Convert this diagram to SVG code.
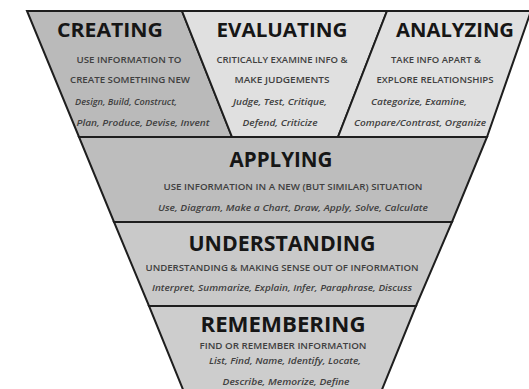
<svg xmlns="http://www.w3.org/2000/svg" width="529" height="389" viewBox="0 0 529 389">
<style>
  .bg { fill: #ffffff; }
  .shape { stroke: #1e1e1e; stroke-width: 2; stroke-linejoin: miter; }
  .h { font-family: "Open Sans", "Noto Sans", sans-serif; font-weight: bold; fill: #161616; text-anchor: middle; }
  .s { font-family: "Open Sans", "Noto Sans", sans-serif; font-size: 8.5px; font-weight: 600; fill: #404040; text-anchor: middle; }
  .i { font-family: "Open Sans", "Noto Sans", sans-serif; font-size: 8.5px; font-style: italic; font-weight: 600; fill: #404040; text-anchor: middle; }
</style>
<rect class="bg" x="0" y="0" width="529" height="389"/>

<g id="creating">
  <polygon class="shape" fill="#bababa" points="27,11 182,11 232,137 79,137"/>
  <text class="h" x="110" y="37" font-size="20" textLength="106" lengthAdjust="spacingAndGlyphs">CREATING</text>
  <text class="s" x="129" y="63" textLength="105" lengthAdjust="spacingAndGlyphs">USE INFORMATION TO</text>
  <text class="s" x="130" y="83" textLength="120" lengthAdjust="spacingAndGlyphs">CREATE SOMETHING NEW</text>
  <text class="i" x="126" y="105" textLength="102" lengthAdjust="spacingAndGlyphs">Design, Build, Construct,</text>
  <text class="i" x="143" y="126" textLength="133" lengthAdjust="spacingAndGlyphs">Plan, Produce, Devise, Invent</text>
</g>

<g id="evaluating">
  <polygon class="shape" fill="#e0e0e0" points="182,11 387,11 338,137 232,137"/>
  <text class="h" x="282" y="37" font-size="20" textLength="131" lengthAdjust="spacingAndGlyphs">EVALUATING</text>
  <text class="s" x="282" y="63" textLength="131" lengthAdjust="spacingAndGlyphs">CRITICALLY EXAMINE INFO &amp;</text>
  <text class="s" x="282" y="83" textLength="95" lengthAdjust="spacingAndGlyphs">MAKE JUDGEMENTS</text>
  <text class="i" x="280" y="105" textLength="94" lengthAdjust="spacingAndGlyphs">Judge, Test, Critique,</text>
  <text class="i" x="280" y="126" textLength="75" lengthAdjust="spacingAndGlyphs">Defend, Criticize</text>
</g>

<g id="analyzing">
  <polygon class="shape" fill="#e0e0e0" points="387,11 531,11 487,137 338,137"/>
  <text class="h" x="455" y="37" font-size="20" textLength="118" lengthAdjust="spacingAndGlyphs">ANALYZING</text>
  <text class="s" x="436" y="63" textLength="90" lengthAdjust="spacingAndGlyphs">TAKE INFO APART &amp;</text>
  <text class="s" x="435" y="83" textLength="117" lengthAdjust="spacingAndGlyphs">EXPLORE RELATIONSHIPS</text>
  <text class="i" x="419" y="105" textLength="96" lengthAdjust="spacingAndGlyphs">Categorize, Examine,</text>
  <text class="i" x="420" y="126" textLength="132" lengthAdjust="spacingAndGlyphs">Compare/Contrast, Organize</text>
</g>

<g id="applying">
  <polygon class="shape" fill="#bdbdbd" points="79,137 487,137 452,222 114,222"/>
  <text class="h" x="281" y="167" font-size="21" textLength="103" lengthAdjust="spacingAndGlyphs">APPLYING</text>
  <text class="s" x="293" y="190" textLength="259" lengthAdjust="spacingAndGlyphs">USE INFORMATION IN A NEW (BUT SIMILAR) SITUATION</text>
  <text class="i" x="293" y="211" textLength="270" lengthAdjust="spacingAndGlyphs">Use, Diagram, Make a Chart, Draw, Apply, Solve, Calculate</text>
</g>

<g id="understanding">
  <polygon class="shape" fill="#c9c9c9" points="114,222 452,222 416,306 149,306"/>
  <text class="h" x="282" y="251" font-size="21" textLength="187" lengthAdjust="spacingAndGlyphs">UNDERSTANDING</text>
  <text class="s" x="282" y="271" textLength="273" lengthAdjust="spacingAndGlyphs">UNDERSTANDING &amp; MAKING SENSE OUT OF INFORMATION</text>
  <text class="i" x="282" y="291" textLength="260" lengthAdjust="spacingAndGlyphs">Interpret, Summarize, Explain, Infer, Paraphrase, Discuss</text>
</g>

<g id="remembering">
  <polygon class="shape" fill="#cdcdcd" points="149,306 416,306 381,392 184,392"/>
  <text class="h" x="283" y="332" font-size="21" textLength="165" lengthAdjust="spacingAndGlyphs">REMEMBERING</text>
  <text class="s" x="283" y="349" textLength="167" lengthAdjust="spacingAndGlyphs">FIND OR REMEMBER INFORMATION</text>
  <text class="i" x="285" y="364" textLength="152" lengthAdjust="spacingAndGlyphs">List, Find, Name, Identify, Locate,</text>
  <text class="i" x="286" y="385" textLength="127" lengthAdjust="spacingAndGlyphs">Describe, Memorize, Define</text>
</g>

<g id="connectors"></g>
</svg>
